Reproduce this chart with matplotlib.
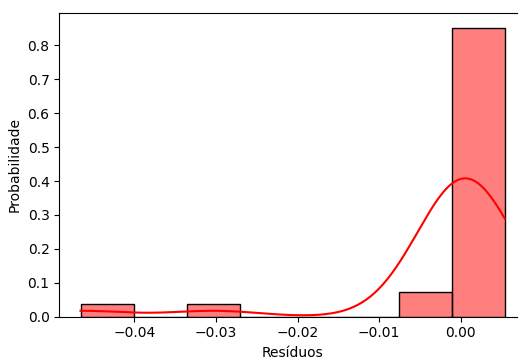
import matplotlib
matplotlib.use("Agg")
import matplotlib.pyplot as plt
import seaborn as sns

# Residuos do modelo
residuos = [-0.0466, -0.0302, -0.0052, -0.0031,
            -0.0009, -0.0007, -0.0005, -0.0003, -0.0001, 0.0000, 0.0001,
            0.0002, 0.0003, 0.0004, 0.0005, 0.0006, 0.0007, 0.0008,
            0.0009, 0.0011, 0.0013, 0.0015, 0.0018, 0.0021, 0.0025,
            0.0032, 0.0054]
n_bins = 8

fig = plt.figure(figsize=(5.18, 3.58), dpi=100)
W, H = 518, 358
ax = fig.add_axes([59.3 / W, (H - 316.7) / H, (526 - 59.3) / W, (316.7 - 13.3) / H])

sns.histplot(residuos, bins=n_bins, stat="probability", kde=True,
             color="red", ax=ax)

ax.set_xlabel("Resíduos")
ax.set_ylabel("Probabilidade")

fig.savefig("out.png", dpi=100)
